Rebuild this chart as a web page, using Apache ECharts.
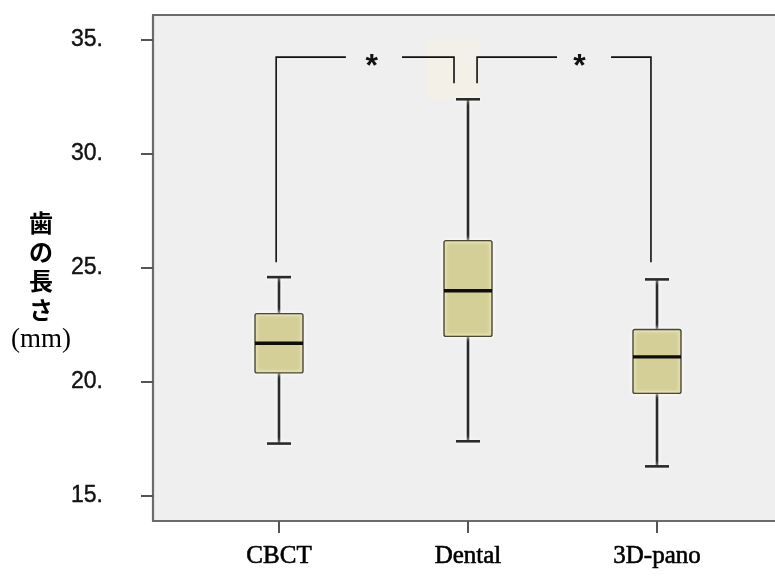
<!DOCTYPE html>
<html>
<head>
<meta charset="utf-8">
<script src="https://cdn.jsdelivr.net/npm/echarts@6/dist/echarts.min.js"></script>
<style>
  html, body { margin: 0; padding: 0; background: #ffffff; }
  #chart { width: 775px; height: 578px; }
</style>
</head>
<body>
<div id="chart"></div>
<script>
// Tooth length (mm) by imaging method
const categories = ['CBCT', 'Dental', '3D-pano'];
const whiskerLow = [17.3, 17.4, 16.3];
const quartile1 = [20.4, 22.0, 19.5];
const medians = [21.7, 24.0, 21.1];
const quartile3 = [23.0, 26.2, 22.3];
const whiskerHigh = [24.6, 32.4, 24.5];
const yTicks = [15, 20, 25, 30, 35];

// Significance brackets between groups (indices into categories)
const sigPairs = [
  { from: 0, to: 1, label: '*' },
  { from: 1, to: 2, label: '*' }
];

// Category i sits at x = i + 1 on a value axis
const catX = categories.map((c, i) => i + 1);
const boxData = categories.map((c, i) => [catX[i], whiskerLow[i], quartile1[i], medians[i], quartile3[i], whiskerHigh[i]]);

const chart = echarts.init(document.getElementById('chart'));

const BOX_W = 48;
const CAP_W = 24;
const HALO = { shadowColor: '#ffffff', shadowBlur: 5 };

function renderBox(params, api) {
  const x = api.value(0);
  const pMin = api.coord([x, api.value(1)]);
  const pQ1 = api.coord([x, api.value(2)]);
  const pMed = api.coord([x, api.value(3)]);
  const pQ3 = api.coord([x, api.value(4)]);
  const pMax = api.coord([x, api.value(5)]);
  const cx = pMed[0];
  const whisk = Object.assign({ stroke: '#2a2a2a', lineWidth: 2.6 }, HALO);
  return {
    type: 'group',
    children: [
      { type: 'line', shape: { x1: cx, y1: pQ3[1], x2: cx, y2: pMax[1] }, style: whisk },
      { type: 'line', shape: { x1: cx, y1: pQ1[1], x2: cx, y2: pMin[1] }, style: whisk },
      { type: 'line', shape: { x1: cx - CAP_W / 2, y1: pMax[1], x2: cx + CAP_W / 2, y2: pMax[1] }, style: whisk },
      { type: 'line', shape: { x1: cx - CAP_W / 2, y1: pMin[1], x2: cx + CAP_W / 2, y2: pMin[1] }, style: whisk },
      {
        type: 'rect',
        shape: { x: cx - BOX_W / 2, y: pQ3[1], width: BOX_W, height: pQ1[1] - pQ3[1], r: 2 },
        style: Object.assign({ fill: '#d4cf96', stroke: '#4a4834', lineWidth: 1.4 }, HALO)
      },
      {
        type: 'rect',
        shape: { x: cx - BOX_W / 2 + 2, y: pQ3[1] + 2, width: BOX_W - 4, height: pQ1[1] - pQ3[1] - 4 },
        style: { fill: 'none', stroke: '#e6e1a8', lineWidth: 1 }
      },
      {
        type: 'line',
        shape: { x1: cx - BOX_W / 2, y1: pMed[1], x2: cx + BOX_W / 2, y2: pMed[1] },
        style: { stroke: '#0d0d0d', lineWidth: 3.4 }
      }
    ]
  };
}

// Bracket geometry, in axis units
const BRACKET_Y = 34.25;
const INNER_LEG_END = 33.1;
const OUTER_LEG_END = 25.25;

function renderBrackets(params, api) {
  if (params.dataIndex !== 0) return null;
  const children = [];
  // faint highlight behind the Dental upper whisker
  const h0 = api.coord([1.78, 35.0]);
  const h1 = api.coord([2.06, 32.4]);
  children.push({
    type: 'rect',
    shape: { x: h0[0], y: h0[1], width: h1[0] - h0[0], height: h1[1] - h0[1], r: 3 },
    style: { fill: '#f2f0e7' },
    z2: -1
  });
  const line = { stroke: '#111111', lineWidth: 1.6, fill: 'none' };
  sigPairs.forEach((p) => {
    const left = p.from === 0 ? catX[p.from] - 0.015 : catX[p.from] + 0.048;
    const right = p.to === 2 ? catX[p.to] - 0.032 : catX[p.to] - 0.074;
    const leftEnd = p.from === 0 ? OUTER_LEG_END : INNER_LEG_END;
    const rightEnd = p.to === 2 ? OUTER_LEG_END : INNER_LEG_END;
    const starX = p.from === 0 ? 1.49 : 2.59;
    const gap = p.from === 0 ? [1.354, 1.651] : [2.471, 2.757];
    children.push({
      type: 'polyline',
      shape: { points: [api.coord([left, leftEnd]), api.coord([left, BRACKET_Y]), api.coord([gap[0], BRACKET_Y])] },
      style: line
    });
    children.push({
      type: 'polyline',
      shape: { points: [api.coord([gap[1], BRACKET_Y]), api.coord([right, BRACKET_Y]), api.coord([right, rightEnd])] },
      style: line
    });
    const s = api.coord([starX, BRACKET_Y]);
    children.push({
      type: 'text',
      x: s[0], y: s[1] + 10,
      style: {
        text: p.label, fill: '#111', font: 'bold 32px "Liberation Sans", Arial, sans-serif',
        align: 'center', verticalAlign: 'middle'
      }
    });
  });
  return { type: 'group', children: children };
}

const option = {
  animation: false,
  backgroundColor: '#ffffff',
  grid: {
    left: 153, top: 15, right: 0, bottom: 57,
    show: true, backgroundColor: '#efefef', borderWidth: 0
  },
  xAxis: [{
    type: 'value',
    min: 1 / 3,
    max: 1 / 3 + 622 / 189,
    splitLine: { show: false },
    axisLine: { show: true, onZero: false, lineStyle: { color: '#6b6b6b', width: 2.2 } },
    axisTick: { show: true, customValues: catX, length: 12, lineStyle: { color: '#555', width: 2 } },
    axisLabel: {
      customValues: catX,
      formatter: (v) => categories[Math.round(v) - 1] || '',
      margin: 23,
      color: '#000',
      textBorderColor: '#000',
      textBorderWidth: 0.6,
      fontFamily: '"Liberation Serif", "Times New Roman", serif',
      fontSize: 25
    }
  }, {
    type: 'value',
    position: 'top',
    min: 1 / 3,
    max: 1 / 3 + 622 / 189,
    splitLine: { show: false },
    axisLine: { show: true, onZero: false, lineStyle: { color: '#6b6b6b', width: 2.2 } },
    axisTick: { show: false },
    axisLabel: { show: false }
  }],
  yAxis: {
    type: 'value',
    min: 15 - 25 / 22.8,
    max: 35 + 25 / 22.8,
    splitLine: { show: false },
    axisLine: { show: true, onZero: false, lineStyle: { color: '#6b6b6b', width: 2.2 } },
    axisTick: { show: true, customValues: yTicks, length: 12, lineStyle: { color: '#555', width: 2 } },
    axisLabel: {
      customValues: yTicks,
      formatter: (v) => v + '.',
      margin: 50,
      color: '#111',
      textBorderColor: '#111',
      textBorderWidth: 0.4,
      fontFamily: '"Liberation Sans", Arial, sans-serif',
      fontSize: 23
    },
    name: '{jp|歯}\n{jp|の}\n{jp|長}\n{jp|さ}\n{mm|(mm)}',
    nameLocation: 'middle',
    nameRotate: 0,
    nameGap: 112,
    nameMoveOverlap: false,
    nameTextStyle: {
      align: 'center',
      padding: [28, 0, 0, 0],
      rich: {
        jp: {
          fontFamily: '"Noto Sans CJK JP", sans-serif', fontWeight: 'bold',
          fontSize: 24, lineHeight: 29, color: '#000', align: 'center'
        },
        mm: {
          fontFamily: '"Liberation Serif", "Times New Roman", serif',
          fontSize: 27, lineHeight: 32, color: '#000', align: 'center'
        }
      }
    }
  },
  series: [{
    type: 'custom',
    name: 'brackets',
    renderItem: renderBrackets,
    data: [[1, BRACKET_Y]],
    encode: { x: 0, y: 1 },
    z: 1,
    silent: true
  }, {
    type: 'custom',
    name: '歯の長さ',
    renderItem: renderBox,
    data: boxData,
    encode: { x: 0, y: [1, 2, 3, 4, 5] },
    z: 2
  }]
};

chart.setOption(option);
</script>
</body>
</html>
